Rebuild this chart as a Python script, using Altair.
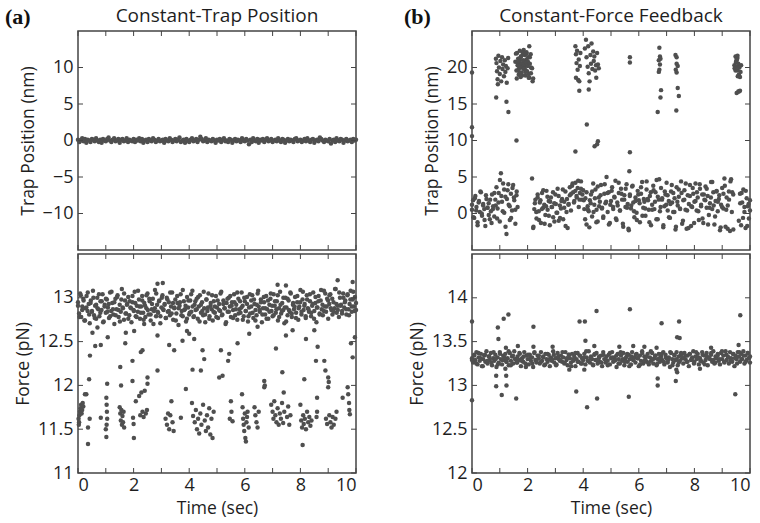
import altair as alt
import pandas as pd

# ---------------- data ----------------
# (a) top: trap position (nm), sampled uniformly over 0-10 s
trap_a = [
    0.1,-0.2,0.0,0.3,-0.1,0.2,-0.3,0.1,0.0,-0.2,0.2,0.1,-0.1,0.3,0.0,-0.2,0.1,-0.3,0.2,0.0,
    -0.1,0.2,0.4,0.0,-0.2,0.1,0.3,-0.1,0.0,0.2,-0.3,0.1,0.2,-0.1,0.0,0.3,-0.2,0.1,0.0,-0.1,
    0.2,-0.2,0.1,0.0,0.3,-0.1,0.2,-0.3,0.0,0.1,-0.2,0.2,0.0,-0.1,0.3,0.1,-0.2,0.0,0.2,-0.1,
    0.0,0.1,-0.3,0.2,0.0,-0.1,0.3,0.1,-0.2,0.0,0.2,-0.1,0.1,0.4,-0.2,0.0,0.1,-0.3,0.2,0.0,
    -0.2,0.1,0.3,-0.1,0.0,0.2,-0.2,0.1,0.5,0.2,-0.1,0.0,0.3,-0.2,0.1,0.0,-0.1,0.2,0.0,-0.3,
    0.1,0.0,0.2,-0.2,0.1,0.3,-0.1,0.0,-0.2,0.2,0.1,-0.3,0.0,0.2,-0.1,0.1,0.0,-0.2,0.3,0.0,
    -0.1,0.2,0.0,-0.5,0.1,-0.2,0.3,0.0,-0.1,0.2,-0.3,0.1,0.0,0.2,-0.2,0.1,0.3,-0.1,0.0,0.2,
    -0.2,0.0,0.1,-0.1,0.3,0.0,-0.2,0.2,0.1,-0.3,0.0,0.2,-0.1,0.1,0.0,-0.2,0.2,0.3,-0.1,0.0,
    0.1,-0.2,0.0,0.2,-0.1,0.3,0.0,-0.2,0.1,0.2,-0.3,0.0,0.1,-0.1,0.4,0.2,0.0,-0.2,0.1,0.0,
    -0.1,0.2,-0.4,0.0,0.1,-0.2,0.3,0.0,-0.1,0.2,0.1,-0.3,0.0,0.2,-0.1,0.0,0.1,-0.2,0.2,0.0,
    0.1,
]

# (a) bottom: force (pN), high-force band sampled uniformly over 0-10 s (two read-outs)
force_a_band = [
    12.95,12.82,13.05,12.78,12.90,12.99,12.74,12.88,13.02,12.85,12.93,12.71,12.97,12.84,13.08,12.80,12.91,12.76,13.00,12.87,
    12.79,12.96,12.86,13.04,12.73,12.92,12.83,12.98,12.89,12.77,13.06,12.85,12.94,12.81,12.70,12.99,12.87,13.03,12.78,12.92,
    12.84,13.10,12.88,12.75,12.97,12.82,12.93,13.01,12.80,12.89,12.72,12.95,12.86,13.07,12.79,12.91,12.84,12.98,12.76,12.90,
    13.02,12.83,12.94,12.78,12.88,13.05,12.81,12.96,12.74,12.87,12.99,12.85,13.09,12.79,12.92,12.83,12.97,12.71,12.89,13.03,
    12.86,12.93,12.77,13.00,12.84,12.95,12.80,12.90,13.06,12.75,12.88,12.98,12.82,12.94,12.69,12.91,13.04,12.85,12.79,12.96,
    12.87,12.73,13.01,12.89,12.81,12.97,12.84,13.08,12.78,12.92,12.86,12.99,12.76,12.90,13.03,12.83,12.95,12.80,12.88,12.72,
    12.98,12.85,13.05,12.79,12.91,12.87,12.74,12.96,12.83,13.02,12.89,12.77,12.93,12.85,13.07,12.81,12.97,12.88,12.70,12.94,
    12.84,13.00,12.90,12.78,12.95,12.86,13.04,12.80,12.92,12.75,12.99,12.87,12.83,13.06,12.91,12.79,12.96,12.85,13.01,12.73,
    12.89,12.82,12.97,13.03,12.77,12.93,12.86,12.80,13.05,12.90,12.84,12.98,12.72,12.88,12.95,12.81,13.02,12.87,12.76,12.92,
    12.99,12.85,12.79,13.04,12.91,12.83,12.96,12.74,12.88,13.07,12.82,12.94,12.86,12.71,13.00,12.89,12.80,12.97,12.84,13.05,
    12.78,12.92,12.87,13.01,12.83,12.95,12.75,12.90,13.09,12.81,12.98,12.86,12.93,12.77,13.03,12.88,12.84,12.96,12.79,12.91,
    13.06,12.85,12.94,12.72,12.89,13.02,12.82,12.97,12.87,12.80,13.08,12.90,12.84,12.99,12.76,12.93,13.04,12.86,12.81,12.95,
    12.88,13.10,12.83,12.91,12.78,13.00,12.92,12.85,13.05,12.89,12.97,12.81,13.03,12.87,12.93,13.08,12.84,12.98,12.90,13.01,
    12.86,
]
force_a_band2 = [
    12.91,12.78,13.03,12.86,12.97,12.74,12.89,13.06,12.81,12.94,12.85,13.00,12.77,12.92,12.88,13.04,12.83,12.96,12.72,12.90,
    12.99,12.84,12.93,12.79,13.07,12.87,12.95,12.80,13.01,12.86,12.73,12.98,12.89,13.05,12.82,12.92,12.76,12.96,12.88,13.02,
    12.85,12.94,12.78,13.08,12.90,12.83,12.97,12.75,12.91,13.03,12.86,12.99,12.81,12.93,12.70,12.88,13.05,12.84,12.96,12.79,
    13.00,12.87,12.92,12.77,12.98,12.85,13.06,12.82,12.94,12.89,12.74,13.02,12.88,12.95,12.80,13.09,12.86,12.91,12.76,12.97,
    12.83,13.04,12.90,12.79,12.96,12.87,13.01,12.73,12.92,12.85,13.07,12.81,12.98,12.89,12.76,12.94,13.03,12.84,12.90,12.78,
    12.97,12.86,13.05,12.80,12.93,12.88,12.72,12.99,12.84,13.02,12.91,12.77,12.95,12.87,13.06,12.82,12.96,12.89,12.75,13.00,
    12.85,12.93,12.79,13.04,12.90,12.83,12.98,12.74,12.92,13.08,12.86,12.95,12.81,13.01,12.88,12.76,12.97,12.84,13.05,12.91,
    12.80,12.96,12.87,13.03,12.78,12.92,12.85,13.00,12.89,12.73,12.99,12.86,13.06,12.82,12.94,12.90,12.77,13.02,12.88,12.95,
    12.84,13.07,12.91,12.79,12.98,12.87,13.04,12.83,12.93,12.76,13.01,12.89,12.96,12.81,13.09,12.92,12.85,13.05,12.90,12.97,
    13.03,12.88,12.99,12.84,13.10,12.93,12.86,13.06,12.91,12.82,13.00,12.95,12.87,13.04,12.80,12.98,12.90,13.07,12.85,12.94,
]

# (a) bottom: low-force state and transition points (time s, force pN)
force_a_events = [
    (0.02,11.62),(0.04,11.58),(0.05,11.66),(0.07,11.70),(0.09,11.74),(0.11,11.78),(0.13,11.68),(0.15,11.72),(0.17,11.80),(0.19,11.76),(0.03,11.55),
    (0.36,11.52),(0.36,11.33),(0.40,12.07),(0.43,12.34),(0.30,11.90),(0.25,11.90),(0.42,11.62),
    (0.62,12.45),(0.70,12.66),(0.52,12.60),(0.82,11.63),(0.82,12.46),
    (1.02,11.86),(1.03,11.78),(1.04,11.70),(1.05,11.62),(1.03,11.55),(1.02,11.41),(1.05,12.02),(1.07,12.55),(1.00,11.50),
    (1.50,11.75),(1.52,11.68),(1.54,11.60),(1.56,11.72),(1.58,11.55),(1.60,11.65),(1.62,11.58),(1.64,11.70),(1.66,11.52),(1.55,12.00),(1.52,12.21),(1.70,12.48),(1.72,12.60),
    (1.98,11.63),(2.00,11.56),(2.01,11.40),(2.08,11.82),(1.96,12.05),(1.96,12.28),(2.02,12.62),
    (2.20,11.88),(2.24,11.66),(2.28,11.92),(2.32,11.70),(2.36,11.64),(2.40,11.94),(2.44,11.68),(2.48,11.72),(2.50,12.02),(2.50,12.09),(2.32,12.40),(2.38,12.70),(2.26,12.38),
    (2.86,12.17),(2.86,12.57),
    (3.15,11.62),(3.20,11.55),(3.24,11.68),(3.28,11.50),(3.32,11.66),(3.36,11.82),(3.40,11.58),(3.44,11.48),(3.28,12.46),(3.46,12.40),
    (3.70,11.63),(3.76,12.51),(3.88,11.96),(3.92,12.62),
    (4.00,12.59),(4.10,11.80),(4.12,12.18),(4.14,11.65),(4.18,12.53),(4.20,11.58),(4.24,11.72),(4.28,11.50),(4.32,11.62),(4.36,11.45),(4.40,11.68),(4.42,12.17),
    (4.44,11.55),(4.48,12.40),(4.50,11.78),(4.54,12.30),(4.56,11.60),(4.60,11.48),(4.64,11.66),(4.68,11.52),(4.72,11.74),(4.76,11.44),(4.80,11.62),(4.84,11.40),(4.88,11.70),
    (5.08,12.09),(5.14,12.40),(5.20,12.11),(5.40,12.28),(5.46,11.62),(5.50,11.82),(5.52,11.70),(5.56,11.59),(5.44,12.36),
    (5.74,12.48),(5.90,11.90),(5.92,11.75),(5.94,11.62),(5.96,11.55),(5.98,11.48),(6.00,11.68),(6.02,11.40),(6.04,11.36),(6.06,11.58),(6.08,11.64),(6.10,11.70),(6.14,11.52),
    (6.16,12.59),(6.35,11.75),(6.38,11.66),(6.42,11.58),(6.46,11.52),(6.46,12.67),(6.50,11.70),
    (6.70,12.05),(6.70,11.98),(6.72,12.00),
    (6.95,11.78),(7.00,11.70),(7.03,11.62),(7.06,11.82),(7.10,11.66),(7.12,12.42),(7.14,11.58),(7.18,11.74),(7.22,11.55),(7.26,11.68),(7.30,11.62),(7.34,11.80),
    (7.35,12.15),(7.38,11.57),(7.40,11.92),(7.42,11.70),(7.48,12.57),(7.52,11.64),(7.56,11.76),(7.60,11.55),(7.64,11.66),(7.72,12.63),
    (8.00,11.78),(8.03,11.60),(8.06,11.52),(8.08,11.32),(8.10,11.66),(8.12,11.56),(8.14,12.07),(8.16,11.62),(8.20,11.50),(8.20,12.53),(8.24,11.70),(8.28,11.58),
    (8.32,11.64),(8.36,11.54),(8.40,11.60),
    (8.50,12.63),(8.56,12.28),(8.58,11.64),(8.60,11.86),(8.62,12.44),(8.60,11.70),
    (8.86,12.28),(8.90,12.17),(8.92,11.62),(8.96,11.56),(9.00,12.09),(9.00,11.98),(9.02,12.04),(9.04,11.66),(9.08,11.58),(9.12,11.52),(9.16,11.64),(9.20,11.55),(9.26,11.62),(9.30,11.70),
    (9.52,11.86),(9.70,11.98),(9.72,11.90),(9.75,11.80),(9.76,11.72),(9.78,11.67),(9.82,12.48),(9.88,12.32),(9.96,12.55),
    (2.86,13.16),(7.18,13.15),(7.48,13.14),(9.34,13.20),(9.88,13.18),(3.05,13.17),
]

# (b) top: trap position (nm), sampled uniformly over 0-10 s (two read-outs)
trap_b = [
    0.5,1.8,-0.6,2.4,0.9,-1.2,1.5,0.2,2.9,-0.3,1.1,0.6,-1.7,2.0,0.8,1.4,-0.8,0.3,2.6,1.0,
    -0.4,1.9,3.6,0.7,2.8,-1.1,5.5,1.6,4.1,0.1,2.3,-2.8,3.2,1.2,-0.9,2.7,0.4,3.9,1.8,-1.4,
    2.5,0.9,19.8,21.2,20.4,18.9,21.8,20.1,19.4,22.1,20.7,19.1,21.4,20.0,4.8,-2.0,0.6,1.9,-0.7,2.2,
    0.3,1.5,-1.3,2.8,0.8,1.2,-0.2,3.1,0.5,1.7,-1.6,2.2,0.9,-0.5,1.4,2.6,0.1,3.4,-1.0,1.1,
    0.7,2.0,-0.8,1.6,3.0,0.2,-2.0,1.3,2.5,0.4,3.8,2.9,1.7,4.2,2.4,3.5,0.9,2.8,4.4,1.9,
    3.2,0.6,2.1,-1.5,1.0,0.3,1.8,2.6,-0.4,4.1,1.2,3.3,0.5,-1.1,2.2,1.6,3.9,0.8,-0.6,2.7,
    1.4,5.0,0.2,2.9,-1.3,1.7,3.6,0.6,2.3,4.5,-0.9,1.1,2.8,0.4,3.4,1.9,-1.8,2.5,0.9,4.0,
    1.3,-2.3,2.6,0.7,3.7,1.5,-0.5,2.2,0.1,3.1,1.8,-1.2,2.7,4.3,0.8,1.6,-0.3,3.3,2.0,0.5,
    2.4,-1.6,1.2,3.8,0.6,2.9,4.6,-0.8,1.9,0.3,3.5,2.1,-1.9,1.0,2.6,4.2,0.4,1.7,-0.6,3.0,
    1.5,2.8,0.2,-2.2,3.6,1.1,2.3,0.7,4.4,-1.4,1.8,3.2,0.5,-2.1,2.5,1.3,3.9,-1.7,0.9,2.7,
    1.6,4.1,0.4,2.2,-0.9,3.4,1.0,2.6,-1.3,1.9,3.7,0.8,2.4,-0.2,1.4,4.3,0.6,2.9,-1.5,1.7,
    3.1,0.3,2.0,-2.3,1.2,3.5,0.7,4.8,-1.8,2.2,1.1,3.0,-2.4,4.7,2.9,-2.2,20.3,19.6,21.0,18.8,
    16.7,2.7,-1.6,1.5,3.3,0.2,-2.0,2.1,1.0,-0.7,1.8,
]
trap_b2 = [
    1.2,-0.5,2.1,0.4,-1.6,1.7,3.0,0.0,1.3,-0.9,2.5,0.8,-0.2,1.9,-1.3,0.6,2.8,1.1,-0.7,1.5,
    4.6,2.4,0.3,3.3,-1.8,2.0,4.0,1.0,-0.6,3.5,2.2,0.5,3.0,
    20.6,19.3,21.5,20.0,22.4,19.7,21.1,20.8,18.6,21.8,19.9,
    -1.8,1.4,0.2,2.6,-0.9,1.8,0.6,3.2,-1.4,1.0,2.3,-0.3,1.6,0.9,2.9,-1.1,
    1.3,0.1,2.4,-0.6,1.7,3.3,0.8,-1.7,2.0,1.2,3.6,2.7,4.1,1.5,3.1,2.2,4.5,1.9,3.4,2.6,
    1.8,-0.8,2.9,0.5,-1.9,1.4,3.0,0.2,2.1,-1.2,3.7,1.0,2.5,0.7,-0.4,4.0,1.6,2.8,-1.5,1.2,
    3.1,0.9,2.2,-0.7,1.5,4.2,0.4,2.7,-1.4,1.9,3.4,0.8,-2.1,2.4,1.1,3.8,0.3,1.7,-0.9,2.6,
    1.4,3.6,-0.3,2.0,0.7,4.4,1.8,-1.2,2.9,0.5,3.2,1.6,-0.8,2.3,4.7,0.9,1.9,-1.6,3.0,1.2,
    2.5,-0.5,1.3,3.9,0.2,2.1,-1.8,1.6,3.3,0.6,2.8,-1.0,1.9,4.1,0.4,-2.0,2.4,1.0,3.5,-1.3,
    1.7,2.9,0.3,4.0,1.2,-0.7,2.6,1.8,3.4,-1.5,0.8,2.2,4.3,1.1,-0.4,3.0,1.6,2.5,-1.9,0.9,
    2.7,3.8,0.5,-2.1,1.9,4.4,0.2,2.6,19.9,20.7,21.3,-1.0,1.4,2.8,-0.6,0.9,3.1,-1.7,1.3,0.4,
]

# (b) top: excursions to the unfolded (~20 nm) level (time s, position nm)
trap_b_events = [
    (0.0,19.3),(0.0,11.8),(0.0,10.6),
    (0.86,21.2),(0.88,20.6),(0.90,19.5),(0.92,18.4),(0.95,21.6),(0.97,20.0),(1.00,19.1),(1.02,20.9),(1.05,18.1),(1.08,21.4),(1.10,19.8),(1.12,20.4),
    (1.15,18.8),(1.18,21.0),(1.20,19.4),(1.22,20.2),(1.25,17.9),(1.28,19.9),(1.30,21.3),(0.87,15.9),(1.24,15.3),(1.31,13.9),(1.60,10.0),(0.93,17.7),
    (1.56,20.8),(1.58,21.9),(1.60,19.6),(1.62,22.0),(1.64,20.3),(1.66,21.2),(1.68,19.0),(1.70,20.9),(1.72,22.3),(1.74,20.0),(1.76,21.5),(1.78,19.3),
    (1.80,20.6),(1.82,22.1),(1.84,21.0),(1.86,19.8),(1.88,20.4),(1.90,21.7),(1.92,18.9),(1.94,20.7),(1.96,21.9),(1.98,19.5),(2.00,20.2),(2.02,21.4),
    (2.04,18.6),(2.06,22.9),(2.08,20.5),(2.12,19.2),(2.18,18.1),(2.20,18.5),(1.61,18.5),(1.75,18.7),
    (3.72,22.9),(3.74,21.8),(3.76,20.6),(3.78,22.3),(3.80,19.7),(3.82,18.3),(3.84,21.1),(3.86,18.1),(3.88,20.2),(3.90,22.0),(3.86,16.8),(4.13,12.2),(3.72,8.5),(3.74,18.6),
    (4.06,22.6),(4.10,23.8),(4.12,21.4),(4.16,20.1),(4.18,22.9),(4.20,19.2),(4.23,18.1),(4.26,21.7),(4.28,20.5),(4.30,23.3),(4.33,19.8),(4.36,22.2),
    (4.38,20.9),(4.40,21.5),(4.43,19.6),(4.46,20.3),(4.47,18.6),(4.50,22.0),(4.53,20.4),(4.56,19.9),(4.41,9.2),(4.53,9.9),(4.50,9.5),(4.20,17.0),
    (5.68,21.4),(5.68,20.7),(5.68,8.4),(5.66,5.8),
    (6.74,22.7),(6.76,21.5),(6.78,21.2),(6.72,21.0),(6.74,19.7),(6.72,19.4),(6.80,16.9),(6.78,15.9),(6.68,13.9),(6.76,20.4),
    (7.32,21.7),(7.36,21.4),(7.36,20.5),(7.40,20.2),(7.33,19.7),(7.36,19.3),(7.40,17.2),(7.44,16.1),(7.35,14.1),
    (9.48,21.5),(9.50,20.8),(9.52,21.2),(9.54,20.1),(9.56,19.6),(9.58,20.5),(9.60,19.0),(9.62,20.0),(9.64,18.7),(9.66,19.4),(9.68,20.3),
    (9.52,16.5),(9.58,16.7),(9.64,16.8),(9.55,21.6),
]

# (b) bottom: force (pN), clamped band sampled uniformly over 0-10 s (two read-outs)
force_b_band = [
    13.31,13.26,13.35,13.29,13.38,13.24,13.32,13.28,13.36,13.22,13.30,13.34,13.27,13.39,13.25,13.33,13.29,13.37,13.23,13.31,
    13.28,13.35,13.21,13.32,13.26,13.38,13.30,13.24,13.34,13.29,13.36,13.27,13.31,13.23,13.37,13.28,13.33,13.25,13.39,13.30,
    13.26,13.33,13.29,13.36,13.22,13.31,13.27,13.38,13.25,13.34,13.30,13.24,13.35,13.28,13.32,13.21,13.37,13.29,13.26,13.34,
    13.31,13.25,13.38,13.28,13.33,13.23,13.36,13.30,13.27,13.35,13.22,13.32,13.29,13.39,13.26,13.31,13.24,13.37,13.30,13.28,
    13.34,13.27,13.32,13.25,13.38,13.29,13.23,13.35,13.31,13.26,13.36,13.28,13.33,13.22,13.30,13.37,13.27,13.34,13.25,13.31,
    13.29,13.36,13.24,13.32,13.28,13.39,13.26,13.33,13.30,13.23,13.35,13.29,13.37,13.25,13.31,13.27,13.34,13.22,13.38,13.30,
    13.26,13.33,13.28,13.35,13.24,13.31,13.38,13.27,13.32,13.29,13.21,13.36,13.30,13.25,13.34,13.28,13.37,13.23,13.31,13.33,
    13.27,13.35,13.30,13.24,13.38,13.29,13.32,13.26,13.36,13.31,13.22,13.34,13.28,13.39,13.25,13.33,13.30,13.27,13.36,13.24,
    13.32,13.28,13.37,13.25,13.31,13.34,13.23,13.30,13.36,13.27,13.33,13.29,13.38,13.24,13.35,13.31,13.26,13.32,13.21,13.37,
    13.30,13.26,13.34,13.29,13.38,13.23,13.33,13.28,13.35,13.31,13.25,13.37,13.30,13.27,13.34,13.22,13.36,13.29,13.32,13.39,
    13.27,13.33,13.30,13.36,13.24,13.31,13.28,13.38,13.26,13.34,13.29,13.37,13.23,13.32,13.30,13.35,13.27,13.39,13.25,13.33,
    13.31,13.36,13.28,13.24,13.37,13.30,13.34,13.26,13.39,13.29,13.33,13.25,13.38,13.31,13.27,13.36,13.22,13.34,13.30,13.38,
    13.33,13.27,13.36,13.30,13.39,13.25,13.34,13.29,13.37,13.31,13.26,
]
force_b_band2 = [
    13.29,13.34,13.25,13.37,13.31,13.22,13.35,13.28,13.33,13.26,13.38,13.30,13.24,13.36,13.29,13.32,13.27,13.39,13.23,13.34,
    13.30,13.26,13.37,13.28,13.33,13.21,13.35,13.31,13.25,13.38,13.29,13.34,13.27,13.32,13.24,13.36,13.30,13.28,13.35,13.23,
    13.33,13.29,13.38,13.26,13.31,13.35,13.22,13.30,13.37,13.27,13.34,13.25,13.32,13.39,13.28,13.31,13.24,13.36,13.29,13.33,
    13.26,13.35,13.30,13.23,13.37,13.32,13.28,13.34,13.25,13.38,13.30,13.27,13.36,13.22,13.33,13.29,13.35,13.31,13.24,13.37,
    13.28,13.33,13.26,13.39,13.30,13.34,13.25,13.31,13.36,13.27,13.32,13.29,13.38,13.23,13.35,13.30,13.26,13.37,13.31,13.34,
    13.27,13.36,13.30,13.25,13.38,13.32,13.28,13.35,13.24,13.33,13.31,13.37,13.29,13.26,13.34,13.30,13.39,13.27,13.35,13.32,
    13.28,13.36,13.31,13.25,13.38,13.30,13.34,13.27,13.37,13.33,
]

# (b) bottom: outliers off the clamped band (time s, force pN)
force_b_events = [
    (0.0,13.73),(0.0,12.83),(0.93,13.66),(0.95,13.53),(0.87,13.11),(0.87,12.99),(1.07,12.89),(1.14,13.76),(1.31,13.81),(1.23,13.11),(1.24,13.00),
    (1.20,13.19),(1.22,13.43),(1.59,12.85),(1.65,13.45),(2.21,13.67),(2.21,13.44),(3.75,12.93),(3.87,13.73),(4.06,13.73),(4.08,13.51),(4.04,13.18),
    (4.14,12.75),(4.48,13.85),(4.50,12.85),(4.40,13.45),(5.68,13.87),(5.64,12.87),(5.80,13.45),(6.68,13.08),(6.68,13.00),(6.82,13.71),(6.64,13.43),
    (7.33,13.05),(7.45,13.73),(7.38,13.55),(7.47,13.54),(7.38,13.15),(7.35,13.18),(9.47,12.90),(9.65,13.80),(9.59,13.46),(2.90,13.44),(5.30,13.44),
    (6.20,13.44),(8.60,13.43),(3.50,13.18),(8.20,13.19),
]

time_ticks = [0, 1, 2, 3, 4, 5, 6, 7, 8, 9, 10]
time_labels = [0, 2, 4, 6, 8, 10]
trap_a_ticks = [-10, -5, 0, 5, 10]
force_a_ticks = [11, 11.5, 12, 12.5, 13]
trap_b_ticks = [0, 5, 10, 15, 20]
force_b_ticks = [12, 12.5, 13, 13.5, 14]

# ---------------- styling ----------------
W, H = 278, 219
PT = "#4f4f4f"
FR = "#444444"
FONT = "Open Sans"
TXT = "#1e1e1e"


def trace(bands, events):
    rows = []
    for values in bands:
        n = len(values)
        rows += [{"t": 10.0 * i / (n - 1), "y": v} for i, v in enumerate(values)]
    rows += [{"t": t, "y": v} for t, v in events]
    return pd.DataFrame(rows)


def panel(df, ydom, yticks, ytitle, show_x, title=None, tag=None, tag_x=-72):
    xs = alt.Scale(domain=[0, 10], nice=False, zero=False)
    ys = alt.Scale(domain=ydom, nice=False, zero=False)
    if show_x:
        xax = alt.Axis(values=time_labels, format="d", ticks=False, domain=False, grid=False,
                       labelPadding=3, title="Time (sec)", titlePadding=5)
    else:
        xax = None
    yax = alt.Axis(values=yticks, format=".1~f", ticks=False, domain=False, grid=False,
                   labelPadding=5, title=ytitle, titlePadding=5)
    X = lambda f: alt.X(f, scale=xs, axis=xax)
    Y = lambda f: alt.Y(f, scale=ys, axis=yax)
    pts = alt.Chart(df).mark_circle(size=20, color=PT, opacity=1).encode(
        x=X("t:Q"), y=Y("y:Q"))
    xt = pd.DataFrame({"t": time_ticks})
    yt = pd.DataFrame({"y": yticks})
    rule = dict(color=FR, strokeWidth=1)
    top_t = alt.Chart(xt).mark_rule(**rule).encode(
        x=X("t:Q"), y=alt.value(0), y2=alt.value(5))
    bot_t = alt.Chart(xt).mark_rule(**rule).encode(
        x=X("t:Q"), y=alt.value(H - 5), y2=alt.value(H))
    lef_t = alt.Chart(yt).mark_rule(**rule).encode(
        y=Y("y:Q"), x=alt.value(0), x2=alt.value(5))
    rig_t = alt.Chart(yt).mark_rule(**rule).encode(
        y=Y("y:Q"), x=alt.value(W - 5), x2=alt.value(W))
    layers = [pts, top_t, bot_t, lef_t, rig_t]
    if tag is not None:
        layers.append(
            alt.Chart(pd.DataFrame({"lab": [tag]})).mark_text(
                font="Liberation Serif", fontSize=22, fontWeight="bold",
                align="left", baseline="middle", color="#111"
            ).encode(text="lab:N", x=alt.value(tag_x), y=alt.value(-14))
        )
    if title is not None:
        layers.append(
            alt.Chart(pd.DataFrame({"lab": [title]})).mark_text(
                font=FONT, fontSize=19, align="center", baseline="alphabetic", color=TXT
            ).encode(text="lab:N", x=alt.value(W / 2), y=alt.value(-9))
        )
    return alt.layer(*layers).properties(width=W, height=H)


tl = panel(trace([trap_a], []), [-15, 15], trap_a_ticks, "Trap Position (nm)", False,
           title="Constant-Trap Position", tag="(a)", tag_x=-73)
bl = panel(trace([force_a_band, force_a_band2], force_a_events), [11, 13.5], force_a_ticks,
           "Force (pN)", True)
tr = panel(trace([trap_b, trap_b2], trap_b_events), [-5, 25], trap_b_ticks, "Trap Position (nm)", False,
           title="Constant-Force Feedback", tag="(b)", tag_x=-68)
br = panel(trace([force_b_band, force_b_band2], force_b_events), [12, 14.5], force_b_ticks,
           "Force (pN)", True)

chart = alt.concat(tl, tr, bl, br, columns=2, spacing={"row": 0, "column": 44}).properties(
    padding={"left": 4, "top": 5, "right": 5, "bottom": 3},
    background="white",
).configure_view(
    stroke=FR, strokeWidth=1.5
).configure_axis(
    labelFont=FONT, labelFontSize=18, labelColor=TXT,
    titleFont=FONT, titleFontSize=17.5, titleColor=TXT, titleFontWeight="normal",
)

chart.save("out.html", embed_options={"renderer": "svg", "actions": False})
